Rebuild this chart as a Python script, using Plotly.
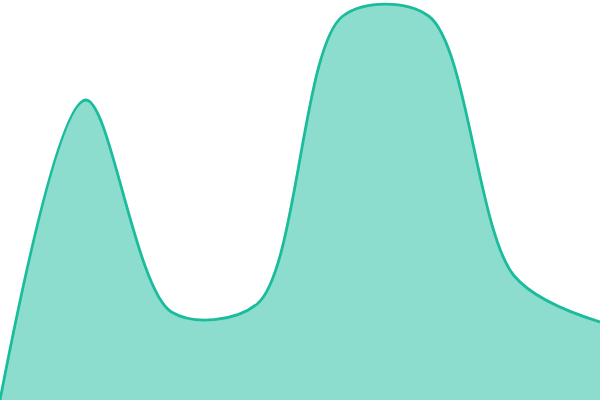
import plotly.graph_objects as go

X_VALUES = [0, 1, 2, 3, 4, 5, 6, 7]
Y_VALUES = [0, 75, 22, 24, 96, 96, 31, 19.5]

fig = go.Figure()
fig.add_trace(go.Scatter(
    x=X_VALUES,
    y=Y_VALUES,
    mode='lines',
    line=dict(color='#1abc9c', width=2.8, shape='spline', smoothing=0.9),
    fill='tozeroy',
    fillcolor='rgba(26,188,156,0.5)',
    hoverinfo='skip',
))

fig.update_layout(
    width=600,
    height=400,
    margin=dict(l=0, r=0, t=0, b=0),
    paper_bgcolor='white',
    plot_bgcolor='white',
    showlegend=False,
    xaxis=dict(visible=False, range=[0, 7]),
    yaxis=dict(visible=False, range=[0, 100]),
)

# drop the default page margin so the chart sits flush at 0,0
fig.write_html("out.html", config={'displayModeBar': False},
               post_script="document.body.style.margin='0';")
